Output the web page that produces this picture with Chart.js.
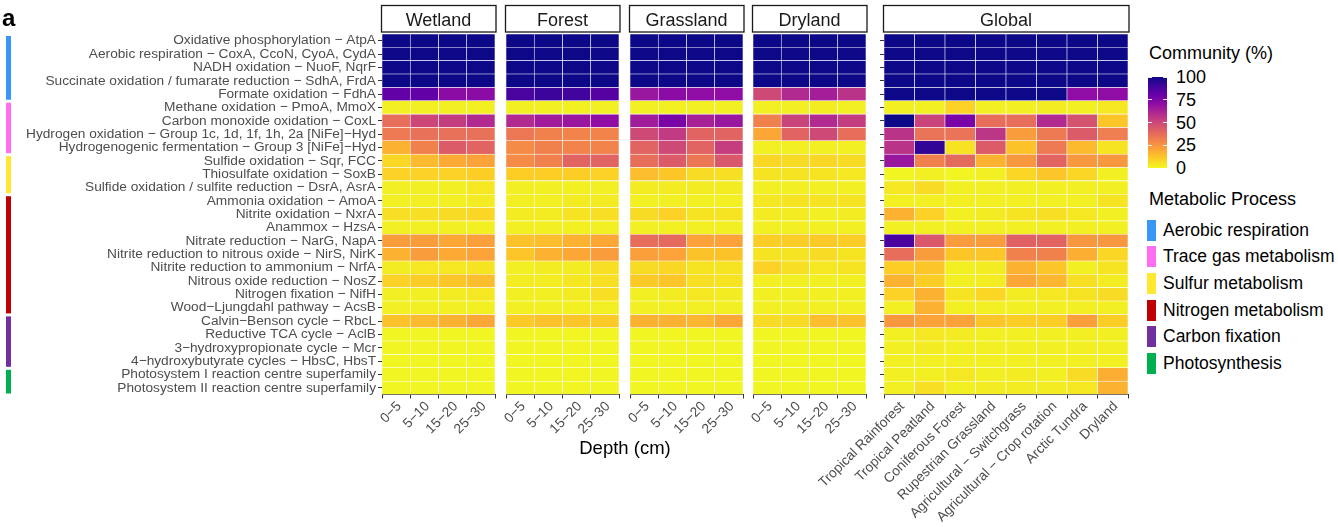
<!DOCTYPE html>
<html>
<head>
<meta charset="utf-8">
<script src="https://cdn.jsdelivr.net/npm/chart.js@4/dist/chart.umd.min.js"></script>
<style>
  body { margin: 0; background: #fff; }
  #fig { position: relative; width: 1338px; height: 527px; overflow: hidden;
         font-family: "Liberation Sans", Arial, sans-serif; color: #000; }
  #fig canvas { position: absolute; top: 0; }
  .txt { position: absolute; white-space: nowrap; }
</style>
</head>
<body>
<div id="fig"></div>
<script>
// functions (rows, top to bottom)
const functions = [
  'Oxidative phosphorylation − AtpA',
  'Aerobic respiration − CoxA, CcoN, CyoA, CydA',
  'NADH oxidation − NuoF, NqrF',
  'Succinate oxidation / fumarate reduction − SdhA, FrdA',
  'Formate oxidation − FdhA',
  'Methane oxidation − PmoA, MmoX',
  'Carbon monoxide oxidation − CoxL',
  'Hydrogen oxidation − Group 1c, 1d, 1f, 1h, 2a [NiFe]−Hyd',
  'Hydrogenogenic fermentation − Group 3 [NiFe]−Hyd',
  'Sulfide oxidation − Sqr, FCC',
  'Thiosulfate oxidation − SoxB',
  'Sulfide oxidation / sulfite reduction − DsrA, AsrA',
  'Ammonia oxidation − AmoA',
  'Nitrite oxidation − NxrA',
  'Anammox − HzsA',
  'Nitrate reduction − NarG, NapA',
  'Nitrite reduction to nitrous oxide − NirS, NirK',
  'Nitrite reduction to ammonium − NrfA',
  'Nitrous oxide reduction − NosZ',
  'Nitrogen fixation − NifH',
  'Wood−Ljungdahl pathway − AcsB',
  'Calvin−Benson cycle − RbcL',
  'Reductive TCA cycle − AclB',
  '3−hydroxypropionate cycle − Mcr',
  '4−hydroxybutyrate cycles − HbsC, HbsT',
  'Photosystem I reaction centre superfamily',
  'Photosystem II reaction centre superfamily'
];

const depths = ['0−5', '5−10', '15−20', '25−30'];
const biomes = ['Tropical Rainforest', 'Tropical Peatland', 'Coniferous Forest', 'Rupestrian Grassland',
  'Agricultural − Switchgrass', 'Agricultural − Crop rotation', 'Arctic Tundra', 'Dryland'];

// community (%) per row, one column per depth / biome
const wetland = [
  [100,100,100,100],[100,100,100,100],[100,100,100,100],[100,100,100,100],
  [82,82,71,71],[2,2,2,2],[37,50,53,60],[33,36,36,36],[17,31,43,40],
  [8,15,19,21],[9,9,9,10],[2,2,2,4],[2,2,2,3],[6,6,7,8],[2,2,2,2],
  [23,23,20,22],[17,23,19,21],[3,4,4,5],[9,10,12,14],[2,2,3,4],[2,2,2,2],
  [13,15,17,20],[1,1,1,1],[1,1,1,1],[1,1,1,1],[1,1,1,1],[1,1,1,1]
];
const forest = [
  [100,100,100,100],[100,100,100,100],[100,100,100,100],[100,100,100,100],
  [88,91,90,85],[2,2,2,2],[60,65,67,70],[34,31,30,30],[28,31,30,30],
  [28,31,40,40],[10,10,10,9],[2,2,2,2],[2,2,3,3],[3,3,5,6],[2,2,2,2],
  [13,14,17,20],[12,17,20,23],[2,3,3,6],[3,3,4,6],[2,2,3,6],[2,2,2,2],
  [11,13,12,11],[1,1,1,1],[1,1,1,1],[1,1,1,1],[1,1,1,1],[1,1,1,1]
];
const grassland = [
  [100,100,100,100],[100,100,100,100],[100,100,100,100],[100,100,100,100],
  [67,71,70,70],[2,2,2,2],[65,76,63,67],[49,54,40,40],[40,49,40,53],
  [37,43,34,44],[14,12,7,6],[3,3,3,3],[2,2,2,2],[7,9,5,5],[2,2,2,2],
  [37,38,21,21],[22,21,13,13],[7,8,5,5],[11,12,6,5],[2,3,4,3],[2,2,2,2],
  [17,17,16,20],[1,1,1,1],[1,1,1,1],[1,1,1,1],[1,1,1,1],[1,1,1,1]
];
const dryland = [
  [100,100,100,100],[100,100,100,100],[100,100,100,100],[100,100,100,100],
  [49,60,64,57],[2,2,3,2],[31,51,60,53],[20,40,49,37],[2,2,2,2],
  [8,7,8,7],[5,5,5,4],[2,2,2,2],[4,5,5,5],[3,3,2,3],[2,2,2,2],
  [10,10,11,10],[5,5,7,5],[9,6,4,5],[2,2,2,2],[2,2,2,2],[2,2,2,2],
  [7,7,14,13],[1,1,1,1],[1,1,1,1],[1,1,1,1],[1,1,1,1],[1,1,1,1]
];
const globalVals = [
  [100,100,100,100,100,100,100,100],[100,100,100,100,100,100,100,100],
  [100,100,100,100,100,100,100,100],[100,100,100,100,100,100,100,100],
  [100,100,100,100,100,100,70,70],[2,2,9,2,2,3,2,4],
  [100,51,76,37,37,60,46,12],[57,35,35,56,23,33,43,32],
  [57,93,5,43,13,33,15,5],[67,31,38,17,24,40,24,24],
  [1,2,1,2,8,12,8,2],[4,7,2,2,2,2,2,2],[2,2,2,2,2,2,2,5],
  [17,9,2,3,5,6,4,2],[2,2,2,2,2,2,2,2],
  [88,44,23,23,41,40,24,24],[37,23,12,12,31,31,18,8],
  [10,12,2,3,17,12,2,5],[17,10,2,3,20,16,6,3],
  [9,17,5,8,3,4,5,7],[2,17,2,2,2,2,2,2],
  [24,21,21,12,10,10,22,10],[2,4,3,2,2,2,2,2],
  [2,3,2,2,2,2,2,2],[2,2,2,2,2,2,2,2],
  [2,2,4,2,3,2,7,18],[2,6,2,3,3,3,4,17]
];

// metabolic process groups (first and last row, 1-based)
const groups = ['Aerobic respiration', 'Trace gas metabolism', 'Sulfur metabolism',
  'Nitrogen metabolism', 'Carbon fixation', 'Photosynthesis'];
const groupColors = ['#3897f6', '#ff6ef2', '#ffe930', '#c00000', '#7030a0', '#00b050'];
const groupRows = [[1,5],[6,9],[10,12],[13,21],[22,25],[26,27]];
const legendTicks = [0, 25, 50, 75, 100];

// plasma palette, reversed so that 0 = yellow and 100 = dark blue
const plasma = ['#0d0887','#41049d','#6a00a8','#8f0da4','#b12a90','#cc4778',
                '#e16462','#f2844b','#fca636','#fcce25','#f0f921'];
function hex(h) { return [1,3,5].map(i => parseInt(h.slice(i, i + 2), 16)); }
function colorFor(v) {
  const t = (1 - Math.min(Math.max(v, 0), 100) / 100) * 10;
  const i = Math.min(Math.floor(t), 9);
  const f = t - i;
  const a = hex(plasma[i]), b = hex(plasma[i + 1]);
  const c = a.map((x, k) => Math.round(x + (b[k] - x) * f));
  return `rgb(${c[0]},${c[1]},${c[2]})`;
}

Chart.defaults.font.family = '"Liberation Sans", Arial, sans-serif';

const fig = document.getElementById('fig');
const H = 527, TOP = 34, BOTTOM = 394.5;

// facet strip above each panel
const stripPlugin = {
  id: 'strip',
  afterDraw(chart, args, opts) {
    const { ctx, chartArea: a } = chart;
    ctx.save();
    ctx.strokeStyle = '#1a1a1a';
    ctx.lineWidth = 1.3;
    ctx.strokeRect(a.left - 0.5, 5.5, a.right - a.left + 1.5, 26.5);
    ctx.fillStyle = '#1a1a1a';
    ctx.font = '18px "Liberation Sans", Arial, sans-serif';
    ctx.textAlign = 'center';
    ctx.textBaseline = 'alphabetic';
    ctx.fillText(opts.text, (a.left + a.right) / 2, 26);
    ctx.restore();
  }
};

// coloured process bars at the far left
const groupPlugin = {
  id: 'groupBars',
  afterDraw(chart, args, opts) {
    if (!opts.show) return;
    const { ctx, scales: { y } } = chart;
    const n = functions.length;
    ctx.save();
    groupRows.forEach(([a, b], i) => {
      const top = y.getPixelForValue(n - (a - 1)) + 2;
      const bot = y.getPixelForValue(n - b) - 1;
      ctx.fillStyle = groupColors[i];
      ctx.fillRect(6, top, 5, bot - top);
    });
    ctx.restore();
  }
};

const panels = [
  { title: 'Wetland', cols: depths, values: wetland, left: 382, right: 495, labels: true, ticks: true },
  { title: 'Forest', cols: depths, values: forest, left: 506, right: 619 },
  { title: 'Grassland', cols: depths, values: grassland, left: 630, right: 743 },
  { title: 'Dryland', cols: depths, values: dryland, left: 753, right: 866 },
  { title: 'Global', cols: biomes, values: globalVals, left: 884, right: 1128, ticks: true }
];

panels.forEach(p => {
  const pad = p.labels ? p.left : (p.ticks ? 200 : 40);
  const cLeft = p.left - pad;
  const canvas = document.createElement('canvas');
  canvas.width = p.right + 6 - cLeft;
  canvas.height = H;
  canvas.style.left = cLeft + 'px';
  fig.appendChild(canvas);

  const n = functions.length;
  // stacked from the bottom row upwards
  const datasets = functions.map((_, k) => {
    const row = n - 1 - k;
    return {
      label: functions[row],
      data: p.cols.map(() => 1),
      backgroundColor: p.values[row].map(colorFor),
      borderColor: '#ffffff',
      borderWidth: 0.6,
      borderSkipped: false,
      barPercentage: 1,
      categoryPercentage: 1
    };
  });

  new Chart(canvas, {
    type: 'bar',
    data: { labels: p.cols, datasets },
    options: {
      responsive: false,
      animation: false,
      devicePixelRatio: 1,
      layout: { padding: { top: TOP, right: 6, left: 0, bottom: 0 } },
      plugins: {
        legend: { display: false },
        tooltip: { enabled: false },
        strip: { text: p.title },
        groupBars: { show: !!p.labels }
      },
      scales: {
        x: {
          stacked: true,
          offset: true,
          grid: { display: true, drawOnChartArea: false, color: '#333', tickLength: 4 },
          border: { display: true, color: '#333', width: 1 },
          ticks: { autoSkip: false, minRotation: 45, maxRotation: 45, color: '#4d4d4d',
                   font: { size: 13.7 }, padding: 0, labelOffset: 3 },
          afterFit: s => { s.height = H - BOTTOM; }
        },
        y: {
          stacked: true,
          min: 0,
          max: n,
          grid: { display: !!p.ticks, drawOnChartArea: false, color: '#333', tickLength: 4 },
          border: { display: true, color: '#333', width: 1 },
          ticks: { display: !!p.labels, autoSkip: false, color: '#4d4d4d', font: { size: 13.7 },
                   padding: 2, callback: (v, i) => functions[n - 1 - i] },
          afterBuildTicks: s => { s.ticks = functions.map((_, i) => ({ value: i + 0.5 })); },
          afterFit: s => { s.width = pad; }
        }
      }
    },
    plugins: [stripPlugin, groupPlugin]
  });
});

// plain text and legends
function addText(text, left, top, size, extra) {
  const d = document.createElement('div');
  d.className = 'txt';
  d.textContent = text;
  d.style.left = left + 'px';
  d.style.top = top + 'px';
  d.style.fontSize = size + 'px';
  d.style.lineHeight = size + 'px';
  if (extra) Object.assign(d.style, extra);
  fig.appendChild(d);
  return d;
}

addText('a', 2, 6, 24, { fontWeight: 'bold' });
addText('Depth (cm)', 625, 438.5, 18.5, { transform: 'translateX(-50%)' });

// colour bar
addText('Community (%)', 1149, 44, 18);
const barTop = 77, barH = 91, barLeft = 1148, barW = 19;
const bar = document.createElement('div');
bar.style.position = 'absolute';
bar.style.left = barLeft + 'px';
bar.style.top = barTop + 'px';
bar.style.width = barW + 'px';
bar.style.height = barH + 'px';
bar.style.background = 'linear-gradient(to top, ' +
  plasma.slice().reverse().map((c, i) => `${c} ${i * 10}%`).join(', ') + ')';
fig.appendChild(bar);
legendTicks.forEach(v => {
  const cy = barTop + barH - v / 100 * barH;
  addText(String(v), 1176, cy - 8.8, 18);
  [0, barW - 4].forEach(dx => {
    const t = document.createElement('div');
    Object.assign(t.style, { position: 'absolute', left: (barLeft + dx) + 'px', top: (cy - 0.5) + 'px',
      width: '4px', height: '1px', background: 'rgba(255,255,255,0.9)' });
    fig.appendChild(t);
  });
});

// process legend
addText('Metabolic Process', 1149, 190.3, 18);
groups.forEach((g, i) => {
  const cy = 230 + i * 26.7;
  const key = document.createElement('div');
  Object.assign(key.style, { position: 'absolute', left: '1147px', top: (cy - 10.5) + 'px',
    width: '9px', height: '21px', background: groupColors[i] });
  fig.appendChild(key);
  addText(g, 1163, cy - 8.5, 17.5);
});
</script>
</body>
</html>
